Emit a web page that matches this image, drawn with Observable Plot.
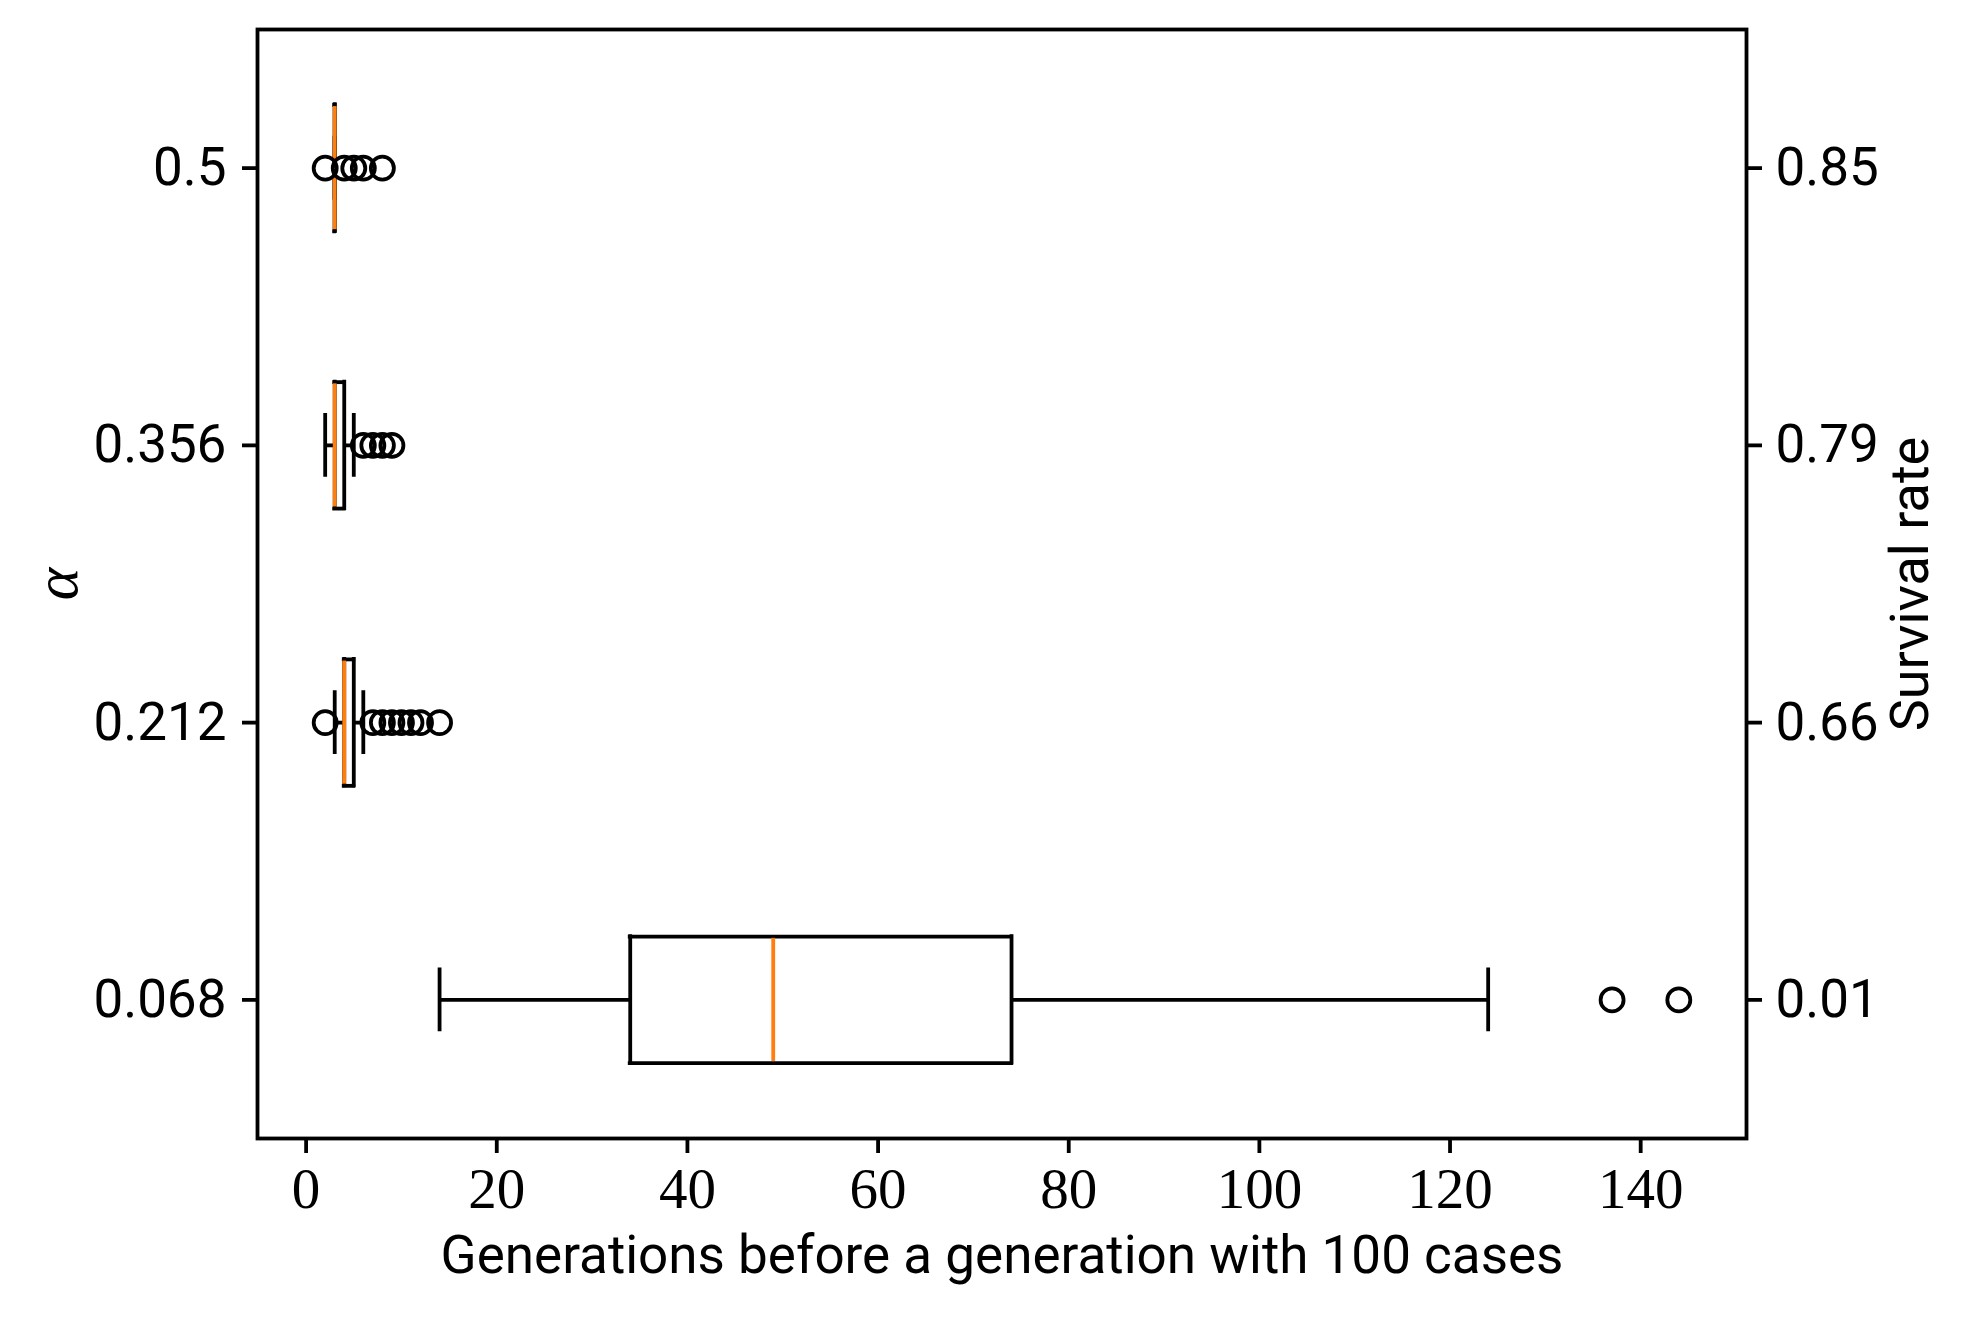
<!DOCTYPE html>
<html>
<head>
<meta charset="utf-8">
<script src="https://cdn.jsdelivr.net/npm/d3@7"></script>
<script src="https://cdn.jsdelivr.net/npm/@observablehq/plot@0.6"></script>
<style>
  html, body { margin: 0; padding: 0; background: #fff; overflow: hidden; }
  #chart svg { display: block; background: #fff; }
</style>
</head>
<body>
<div id="chart"></div>
<script>
// box plot statistics, one entry per alpha (bottom to top)
var alphaLabels = ["0.068", "0.212", "0.356", "0.5"];
var survivalLabels = ["0.01", "0.66", "0.79", "0.85"];
var q1 = [34, 4, 3, 3];
var median = [49, 4, 3, 3];
var q3 = [74, 5, 4, 3];
var whiskerLo = [14, 3, 2, 3];
var whiskerHi = [124, 6, 5, 3];
var outliers = [
  [137, 144],
  [2, 7, 8, 9, 10, 11, 12, 14],
  [6, 7, 8, 9],
  [2, 4, 5, 6, 8]
];
var xTicks = [0, 20, 40, 60, 80, 100, 120, 140];
var xLabel = "Generations before a generation with 100 cases";
var yLabel = "\u03b1";
var y2Label = "Survival rate";

var boxHalf = 0.228;
var capHalf = 0.115;
var sans = "Roboto, 'Liberation Sans', sans-serif";
var serif = "'Liberation Serif', 'DejaVu Serif', serif";

// Build rows for the marks
var rows = alphaLabels.map(function(a, i) {
  return {pos: i + 1, q1: q1[i], med: median[i], q3: q3[i], lo: whiskerLo[i], hi: whiskerHi[i]};
});
var fliers = [];
outliers.forEach(function(list, i) {
  list.forEach(function(v) { fliers.push({pos: i + 1, value: v}); });
});

var lw = 3.8;

function lower(h) { return function(d) { return d.pos - h; }; }
function upper(h) { return function(d) { return d.pos + h; }; }

var plot = Plot.plot({
  width: 1973,
  height: 1317,
  marginLeft: 257,
  marginRight: 227,
  marginTop: 29,
  marginBottom: 179,
  style: {background: "#fff", color: "#000"},
  x: {domain: [-5.1, 151.1], label: null},
  y: {domain: [0.5, 4.5], label: null},
  marks: [
    // whiskers
    Plot.ruleY(rows, {y: "pos", x1: "lo", x2: "q1", stroke: "#000", strokeWidth: lw}),
    Plot.ruleY(rows, {y: "pos", x1: "q3", x2: "hi", stroke: "#000", strokeWidth: lw}),
    // caps
    Plot.ruleX(rows, {x: "lo", y1: lower(capHalf), y2: upper(capHalf), stroke: "#000", strokeWidth: lw}),
    Plot.ruleX(rows, {x: "hi", y1: lower(capHalf), y2: upper(capHalf), stroke: "#000", strokeWidth: lw}),
    // boxes (drawn as four edges so a collapsed box still shows)
    Plot.ruleX(rows, {x: "q1", y1: lower(boxHalf), y2: upper(boxHalf), stroke: "#000", strokeWidth: lw, strokeLinecap: "square"}),
    Plot.ruleX(rows, {x: "q3", y1: lower(boxHalf), y2: upper(boxHalf), stroke: "#000", strokeWidth: lw, strokeLinecap: "square"}),
    Plot.ruleY(rows, {y: lower(boxHalf), x1: "q1", x2: "q3", stroke: "#000", strokeWidth: lw, strokeLinecap: "square"}),
    Plot.ruleY(rows, {y: upper(boxHalf), x1: "q1", x2: "q3", stroke: "#000", strokeWidth: lw, strokeLinecap: "square"}),
    // medians
    Plot.ruleX(rows, {x: "med", y1: lower(boxHalf - 0.006), y2: upper(boxHalf - 0.006), stroke: "#ff7f0e", strokeWidth: lw}),
    // outliers
    Plot.dot(fliers, {x: "value", y: "pos", r: 11.5, fill: "none", stroke: "#000", strokeWidth: lw}),
    // axes
    Plot.axisX({ticks: xTicks, tickFormat: function(d) { return String(d); }, tickSize: 15, tickPadding: 14,
      strokeWidth: lw, fontSize: 57, fontFamily: serif, label: null}),
    Plot.axisY({anchor: "left", ticks: [1, 2, 3, 4], tickFormat: function(d) { return alphaLabels[d - 1]; },
      tickSize: 15, tickPadding: 16, strokeWidth: lw, fontSize: 53, fontFamily: sans, label: null}),
    Plot.axisY({anchor: "right", ticks: [1, 2, 3, 4], tickFormat: function(d) { return survivalLabels[d - 1]; },
      tickSize: 15, tickPadding: 14, strokeWidth: lw, fontSize: 53, fontFamily: sans, label: null}),
    Plot.frame({stroke: "#000", strokeWidth: lw}),
    // axis titles
    Plot.text([xLabel], {text: function(d) { return d; }, frameAnchor: "bottom", dy: 97, lineAnchor: "top",
      fontSize: 53, fontFamily: sans, fill: "#000"}),
    Plot.text([yLabel], {text: function(d) { return d; }, frameAnchor: "left", textAnchor: "middle", dx: -200, rotate: -90,
      fontSize: 62, fontStyle: "italic", fontFamily: serif, fill: "#000"}),
    Plot.text([y2Label], {text: function(d) { return d; }, frameAnchor: "right", textAnchor: "middle", dx: 164, rotate: -90,
      fontSize: 54, fontFamily: sans, fill: "#000"})
  ]
});

document.getElementById("chart").appendChild(plot);
</script>
</body>
</html>
